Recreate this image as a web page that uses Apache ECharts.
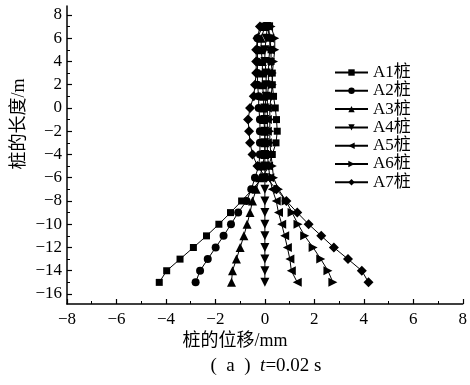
<!DOCTYPE html>
<html><head><meta charset="utf-8">
<script src="https://cdn.jsdelivr.net/npm/echarts@6/dist/echarts.min.js"></script>
<style>html,body{margin:0;padding:0;background:#fff}#c{width:470px;height:385px}</style>
</head><body><div id="c"></div>
<script>
// Depth along pile (m)
var depths = [7,6,5,4,3,2,1,0,-1,-2,-3,-4,-5,-6,-7,-8,-9,-10,-11,-12,-13,-14,-15];
// Displacement (mm) per pile
var A1 = [0.1,0.2,0.25,0.25,0.3,0.3,0.35,0.42,0.47,0.5,0.45,0.3,0.15,-0.1,-0.5,-0.94,-1.39,-1.86,-2.36,-2.89,-3.43,-3.97,-4.27];
var A2 = [-0.1,-0.3,-0.3,-0.3,-0.3,-0.3,-0.25,-0.25,-0.2,-0.2,-0.2,-0.2,-0.25,-0.4,-0.55,-0.74,-1.08,-1.37,-1.67,-1.99,-2.31,-2.62,-2.8];
var A3 = [0.0,-0.15,-0.15,-0.1,-0.1,-0.1,-0.05,-0.05,-0.05,0.0,0.0,0.0,-0.1,-0.2,-0.35,-0.5,-0.6,-0.72,-0.85,-1.0,-1.15,-1.31,-1.35];
var A4 = [0.1,0.05,0.0,0.0,0.05,0.05,0.05,0.0,0.0,0.0,0.0,0.0,0.0,0.0,0.0,0.0,0.0,0.0,0.0,0.0,0.0,0.0,0.0];
var A5 = [0.15,0.2,0.2,0.15,0.15,0.15,0.1,0.1,0.1,0.1,0.1,0.1,0.15,0.2,0.3,0.46,0.55,0.68,0.8,0.91,1.01,1.07,1.31];
var A6 = [0.25,0.4,0.4,0.35,0.3,0.3,0.25,0.2,0.2,0.2,0.2,0.25,0.3,0.35,0.55,0.86,1.1,1.34,1.61,1.95,2.26,2.55,2.75];
var A7 = [-0.2,-0.3,-0.35,-0.35,-0.35,-0.4,-0.45,-0.6,-0.68,-0.64,-0.6,-0.5,-0.3,0.05,0.47,0.87,1.31,1.77,2.28,2.79,3.36,3.92,4.19];
var seriesNames = ['A1桩','A2桩','A3桩','A4桩','A5桩','A6桩','A7桩'];
var xTicks = [-8,-6,-4,-2,0,2,4,6,8];
var yTicks = [-16,-14,-12,-10,-8,-6,-4,-2,0,2,4,6,8];
var yMinorTicks = [-15,-13,-11,-9,-7,-5,-3,-1,1,3,5,7];

var serif = '"Liberation Serif","Noto Sans CJK SC",serif';
var allData = [A1,A2,A3,A4,A5,A6,A7];
var symbols = [
  {s:'rect', size:7, rot:0},
  {s:'circle', size:8, rot:0},
  {s:'triangle', size:9, rot:0},
  {s:'triangle', size:9, rot:180},
  {s:'triangle', size:9, rot:90},
  {s:'triangle', size:9, rot:-90},
  {s:'diamond', size:10, rot:0}
];
function fmt(v){ return String(v).replace('-', '\u2212'); }

var series = allData.map(function(arr, i){
  return {
    name: seriesNames[i], type: 'line',
    data: arr.map(function(x, j){ return [x, depths[j]]; }),
    symbol: symbols[i].s, symbolSize: symbols[i].size, symbolRotate: symbols[i].rot,
    lineStyle: {color:'#000', width:1},
    itemStyle: {color:'#000'},
    animation: false
  };
});

var yMin = -16.86, yMax = 8.77;
var chart = echarts.init(document.getElementById('c'), null, {renderer:'canvas'});
chart.setOption({
  backgroundColor: '#fff',
  animation: false,
  grid: {left:67, right:6, top:6, bottom:81, containLabel:false},
  xAxis: {
    type:'value', min:-8, max:8, interval:2,
    axisLine:{show:true, onZero:false, lineStyle:{color:'#000', width:1.5}},
    axisTick:{show:true, inside:true, length:5, lineStyle:{color:'#000', width:1.2}},
    minorTick:{show:true, splitNumber:2, length:3, lineStyle:{color:'#000', width:1}},
    splitLine:{show:false},
    axisLabel:{fontFamily:serif, fontSize:17, color:'#000', margin:7, formatter:fmt}
  },
  yAxis: [{
    type:'value', min:yMin, max:yMax,
    axisLine:{show:true, onZero:false, lineStyle:{color:'#000', width:1.5}},
    axisTick:{show:true, inside:true, length:5, customValues:yTicks, lineStyle:{color:'#000', width:1.2}},
    splitLine:{show:false},
    axisLabel:{fontFamily:serif, fontSize:17, color:'#000', margin:5, formatter:fmt, customValues:yTicks}
  },{
    type:'value', min:yMin, max:yMax, position:'left',
    axisLine:{show:false, onZero:false},
    axisTick:{show:true, inside:true, length:3, customValues:yMinorTicks, lineStyle:{color:'#000', width:1}},
    splitLine:{show:false},
    axisLabel:{show:false}
  }],
  legend: {
    orient:'vertical', left:329, top:59,
    itemWidth:33, itemHeight:8, itemGap:1.3,
    textStyle:{fontFamily:serif, fontSize:17, color:'#000', lineHeight:16},
    data: seriesNames
  },
  graphic: [
    {type:'text', left:'center', top:332, style:{text:'桩的位移/mm', fontFamily:serif, fontSize:18, fill:'#000'}},
    {type:'text', x:19, y:124, rotation:Math.PI/2, style:{text:'桩的长度/m', fontFamily:serif, fontSize:18, fill:'#000', align:'center', verticalAlign:'middle'}},
    {type:'text', x:266, y:366, style:{
      text:'{n|(  a  )  }{i|t}{n|=0.02 s}', align:'center', verticalAlign:'middle',
      rich:{ n:{fontFamily:serif, fontSize:19, fill:'#000'}, i:{fontFamily:serif, fontSize:19, fontStyle:'italic', fill:'#000'} }
    }}
  ],
  series: series
});
</script></body></html>
